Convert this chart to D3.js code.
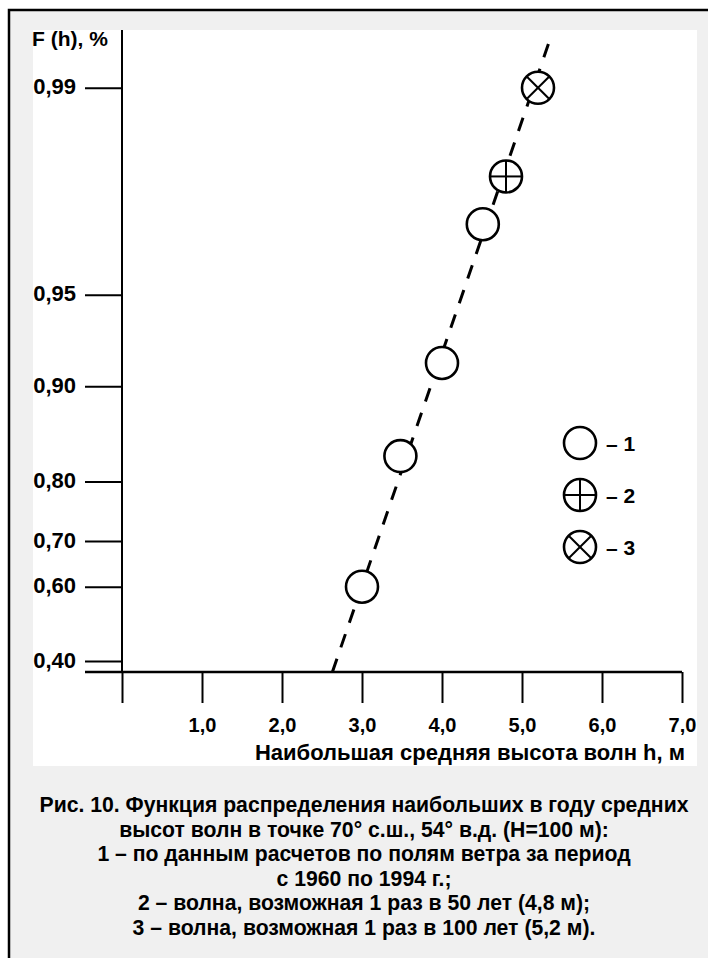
<!DOCTYPE html>
<html>
<head>
<meta charset="utf-8">
<script src="https://cdn.jsdelivr.net/npm/d3@7"></script>
<style>
  html, body { margin: 0; padding: 0; background: #ffffff; }
  svg { display: block; font-family: "Liberation Sans", Arial, sans-serif; font-weight: bold; }
</style>
</head>
<body>
<svg id="chart" width="708" height="958"></svg>
<script>
// Wave height axis (m)
const xTicks = [0, 1, 2, 3, 4, 5, 6, 7];
const xTickLabels = ["", "1,0", "2,0", "3,0", "4,0", "5,0", "6,0", "7,0"];

// Probability axis on Gumbel paper
const yTicks = [0.40, 0.60, 0.70, 0.80, 0.90, 0.95, 0.99];
const yTickLabels = ["0,40", "0,60", "0,70", "0,80", "0,90", "0,95", "0,99"];

// 1 – annual maxima computed from wind fields, 1960–1994
const calcH = [3.0, 3.48, 4.0, 4.51];
const calcF = [0.60, 0.833, 0.916, 0.971];

// 2 – wave expected once in 50 years
const wave50H = [4.8];
const wave50F = [0.98];

// 3 – wave expected once in 100 years
const wave100H = [5.2];
const wave100F = [0.99];

// Fitted distribution line (end points)
const fitH = [2.63, 5.33];
const fitF = [0.368, 0.9929];

const legendKeys = ["1", "2", "3"];
const legendTypes = ["plain", "plus", "cross"];

const yAxisTitle = "F (h), %";
const xAxisTitle = "Наибольшая средняя высота волн h, м";
const captionLines = [
  "Рис. 10. Функция распределения наибольших в году средних",
  "высот волн в точке 70° с.ш., 54° в.д. (H=100 м):",
  "1 – по данным расчетов по полям ветра за период",
  "с 1960 по 1994 г.;",
  "2 – волна, возможная 1 раз в 50 лет (4,8 м);",
  "3 – волна, возможная 1 раз в 100 лет (5,2 м)."
];

const svg = d3.select("#chart");

// Page: grey sheet inside a frame, white plotting panel
svg.append("rect").attr("x", 9).attr("y", 10).attr("width", 720).attr("height", 970)
  .attr("fill", "#f0f0f0").attr("stroke", "#000").attr("stroke-width", 2.5);
svg.append("rect").attr("x", 33).attr("y", 30).attr("width", 664).attr("height", 736)
  .attr("fill", "#ffffff");

// Scales: linear height, Gumbel reduced variate for probability
const gumbel = F => -Math.log(-Math.log(F));
const x = d3.scaleLinear().domain([0, 7]).range([122, 682]);
const yU = d3.scaleLinear().domain([0, 5.055]).range([672, 30]);
const y = F => yU(gumbel(F));

const tickLen = 37;

// Y axis
const yAxis = d3.axisLeft(yU)
  .tickValues(yTicks.map(gumbel))
  .tickFormat((d, i) => yTickLabels[i])
  .tickSize(tickLen)
  .tickPadding(9);
const gy = svg.append("g").attr("transform", `translate(${x(0)},0)`).call(yAxis);
gy.select(".domain").remove();
gy.selectAll(".tick line").attr("stroke", "#000").attr("stroke-width", 2);
gy.selectAll(".tick text").attr("font-family", null).attr("font-size", 22)
  .attr("dy", "0.28em").attr("fill", "#000");

// X axis
const xAxis = d3.axisBottom(x)
  .tickValues(xTicks)
  .tickFormat((d, i) => xTickLabels[i])
  .tickSize(31)
  .tickPadding(15);
const gx = svg.append("g").attr("transform", `translate(0,${yU(0)})`).call(xAxis);
gx.select(".domain").remove();
gx.selectAll(".tick line").attr("stroke", "#000").attr("stroke-width", 2);
gx.selectAll(".tick text").attr("font-family", null).attr("font-size", 20).attr("fill", "#000");

// Axis lines
svg.append("line")
  .attr("x1", x(0)).attr("x2", x(0)).attr("y1", yU.range()[1]).attr("y2", yU(0))
  .attr("stroke", "#000").attr("stroke-width", 2);
svg.append("line")
  .attr("x1", x(0) - tickLen).attr("x2", x(7)).attr("y1", yU(0)).attr("y2", yU(0))
  .attr("stroke", "#000").attr("stroke-width", 2.5);

// Axis titles
svg.append("text").attr("x", 32).attr("y", 46)
  .attr("font-size", 21).text(yAxisTitle);
svg.append("text").attr("x", 685).attr("y", 760).attr("text-anchor", "end")
  .attr("font-size", 22).text(xAxisTitle);

// Fitted line
const fitData = fitH.map((h, i) => [h, fitF[i]]);
svg.append("path")
  .datum(fitData)
  .attr("d", d3.line().x(d => x(d[0])).y(d => y(d[1])))
  .attr("fill", "none").attr("stroke", "#000").attr("stroke-width", 3)
  .attr("stroke-dasharray", "14,12");

// Marker glyphs
const R = 16;
function marker(g, type) {
  g.append("circle").attr("r", R).attr("fill", "#fff")
    .attr("stroke", "#000").attr("stroke-width", 2.6);
  if (type === "plus") {
    g.append("line").attr("x1", -R).attr("x2", R).attr("y1", 0).attr("y2", 0)
      .attr("stroke", "#000").attr("stroke-width", 2);
    g.append("line").attr("x1", 0).attr("x2", 0).attr("y1", -R).attr("y2", R)
      .attr("stroke", "#000").attr("stroke-width", 2);
  } else if (type === "cross") {
    const k = R * Math.SQRT1_2;
    g.append("line").attr("x1", -k).attr("x2", k).attr("y1", -k).attr("y2", k)
      .attr("stroke", "#000").attr("stroke-width", 2);
    g.append("line").attr("x1", -k).attr("x2", k).attr("y1", k).attr("y2", -k)
      .attr("stroke", "#000").attr("stroke-width", 2);
  }
}

function drawSeries(hs, fs, type) {
  hs.forEach((h, i) => {
    const g = svg.append("g").attr("transform", `translate(${x(h)},${y(fs[i])})`);
    marker(g, type);
  });
}
drawSeries(calcH, calcF, "plain");
drawSeries(wave50H, wave50F, "plus");
drawSeries(wave100H, wave100F, "cross");

// Legend
legendKeys.forEach((k, i) => {
  const g = svg.append("g").attr("transform", `translate(580,${443 + i * 52})`);
  marker(g, legendTypes[i]);
  g.append("text").attr("x", 26).attr("y", 0).attr("dy", "0.36em")
    .attr("font-size", 21).text("– " + k);
});

// Caption
svg.append("g").selectAll("text")
  .data(captionLines)
  .join("text")
  .attr("x", 364)
  .attr("y", (d, i) => 812 + i * 24.5)
  .attr("text-anchor", "middle")
  .attr("font-size", 21.2)
  .text(d => d);
</script>
</body>
</html>
